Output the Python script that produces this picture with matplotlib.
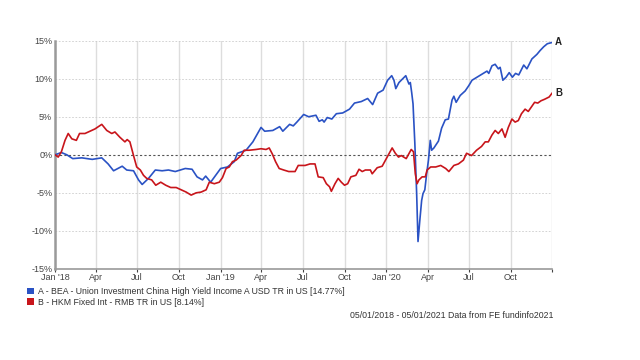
import numpy as np
import pandas as pd
import matplotlib
matplotlib.use("Agg")
import matplotlib.pyplot as plt
import matplotlib.dates as mdates
from matplotlib.patches import Patch

plt.rcParams["font.family"] = ["Liberation Sans", "DejaVu Sans"]

# series A: BEA - Union Investment China High Yield Income (cumulative %)
a_dates = [
    "2018-01-01", "2018-01-15", "2018-01-27", "2018-02-09", "2018-03-01", "2018-03-24",
    "2018-04-14", "2018-04-28", "2018-05-10", "2018-05-29", "2018-06-08", "2018-06-23",
    "2018-07-04", "2018-07-12", "2018-07-26", "2018-08-10", "2018-08-25", "2018-09-08",
    "2018-09-23", "2018-10-15", "2018-10-30", "2018-11-10", "2018-11-22", "2018-11-29",
    "2018-12-10", "2018-12-21", "2019-01-01", "2019-01-16", "2019-01-31", "2019-02-07",
    "2019-02-26", "2019-03-13", "2019-03-31", "2019-04-08", "2019-04-26", "2019-05-11",
    "2019-05-18", "2019-06-02", "2019-06-10", "2019-06-18", "2019-07-03", "2019-07-14",
    "2019-07-30", "2019-08-06", "2019-08-13", "2019-08-17", "2019-08-24", "2019-09-03",
    "2019-09-13", "2019-09-27", "2019-10-12", "2019-10-23", "2019-11-07", "2019-11-21",
    "2019-12-02", "2019-12-13", "2019-12-25", "2020-01-04", "2020-01-13", "2020-01-18",
    "2020-01-22", "2020-01-29", "2020-02-13", "2020-02-20", "2020-02-23", "2020-02-26",
    "2020-02-29", "2020-03-04", "2020-03-08", "2020-03-11", "2020-03-15", "2020-03-19",
    "2020-03-22", "2020-03-26", "2020-03-30", "2020-04-03", "2020-04-07", "2020-04-10",
    "2020-04-15", "2020-04-25", "2020-05-02", "2020-05-10", "2020-05-17", "2020-05-25",
    "2020-05-29", "2020-06-03", "2020-06-12", "2020-06-23", "2020-07-01", "2020-07-08",
    "2020-07-19", "2020-07-30", "2020-08-10", "2020-08-14", "2020-08-21", "2020-08-28",
    "2020-09-04", "2020-09-08", "2020-09-14", "2020-09-21", "2020-09-28", "2020-10-05",
    "2020-10-12", "2020-10-19", "2020-10-30", "2020-11-06", "2020-11-17", "2020-11-28",
    "2020-12-05", "2020-12-13", "2020-12-21", "2021-01-01",
]
a_vals = [
    0.0, 0.3, 0.0, -0.5, -0.4, -0.6,
    -0.4, -1.2, -2.1, -1.5, -2.0, -2.1,
    -3.3, -3.9, -3.1, -2.0, -2.1, -2.0,
    -2.2, -1.8, -1.9, -2.9, -3.3, -2.8,
    -3.6, -2.7, -1.8, -1.6, -0.9, 0.2,
    0.6, 1.7, 3.6, 3.1, 3.2, 3.7,
    3.1, 4.0, 3.8, 4.3, 5.3, 5.0,
    5.2, 4.4, 4.6, 4.3, 4.9, 4.7,
    5.4, 5.5, 6.0, 6.8, 7.0, 7.4,
    6.6, 8.1, 8.5, 9.8, 10.4, 9.8,
    8.7, 9.5, 10.4, 9.3, 9.5, 8.2,
    6.7, 1.5, -5.1, -11.4, -8.6, -6.0,
    -5.1, -4.6, -2.5, -0.7, 1.9, 0.6,
    0.9, 1.8, 3.5, 4.6, 4.7, 7.2,
    7.7, 6.9, 7.8, 8.4, 9.1, 9.8,
    10.2, 10.6, 11.0, 10.7, 11.7, 11.9,
    11.3, 11.5, 9.8, 10.2, 10.8, 10.2,
    10.7, 10.5, 11.8, 11.3, 12.6, 13.2,
    13.7, 14.2, 14.6, 14.77,
]

# series B: HKM Fixed Int - RMB (cumulative %)
b_dates = [
    "2018-01-01", "2018-01-08", "2018-01-15", "2018-01-23", "2018-01-30", "2018-02-07",
    "2018-02-17", "2018-02-24", "2018-03-08", "2018-03-19", "2018-03-30", "2018-04-14",
    "2018-04-25", "2018-05-06", "2018-05-13", "2018-05-24", "2018-06-04", "2018-06-09",
    "2018-06-15", "2018-06-23", "2018-06-30", "2018-07-08", "2018-07-15", "2018-07-22",
    "2018-08-02", "2018-08-11", "2018-08-22", "2018-09-02", "2018-09-13", "2018-09-25",
    "2018-10-06", "2018-10-17", "2018-10-28", "2018-11-08", "2018-11-19", "2018-11-30",
    "2018-12-07", "2018-12-18", "2018-12-29", "2019-01-05", "2019-01-13", "2019-01-20",
    "2019-01-27", "2019-02-04", "2019-02-15", "2019-02-22", "2019-03-05", "2019-03-20",
    "2019-03-31", "2019-04-11", "2019-04-18", "2019-04-25", "2019-05-02", "2019-05-10",
    "2019-05-20", "2019-05-31", "2019-06-14", "2019-06-21", "2019-07-06", "2019-07-17",
    "2019-07-28", "2019-08-04", "2019-08-15", "2019-08-22", "2019-08-29", "2019-09-02",
    "2019-09-10", "2019-09-17", "2019-09-24", "2019-10-01", "2019-10-08", "2019-10-15",
    "2019-10-26", "2019-11-02", "2019-11-09", "2019-11-16", "2019-11-27", "2019-12-01",
    "2019-12-12", "2019-12-23", "2020-01-03", "2020-01-14", "2020-01-21", "2020-01-28",
    "2020-02-03", "2020-02-14", "2020-02-25", "2020-03-01", "2020-03-05", "2020-03-09",
    "2020-03-13", "2020-03-20", "2020-03-27", "2020-03-31", "2020-04-08", "2020-04-19",
    "2020-04-30", "2020-05-11", "2020-05-18", "2020-05-29", "2020-06-08", "2020-06-19",
    "2020-06-26", "2020-07-07", "2020-07-18", "2020-07-29", "2020-08-06", "2020-08-13",
    "2020-08-21", "2020-08-28", "2020-09-04", "2020-09-12", "2020-09-19", "2020-09-26",
    "2020-10-04", "2020-10-11", "2020-10-18", "2020-10-25", "2020-11-02", "2020-11-09",
    "2020-11-16", "2020-11-23", "2020-11-30", "2020-12-07", "2020-12-15", "2020-12-25",
    "2021-01-01",
]
b_vals = [
    0.0, -0.3, 0.4, 1.9, 2.8, 2.1,
    1.9, 2.8, 2.8, 3.1, 3.4, 4.0,
    3.2, 2.8, 3.0, 2.3, 1.7, 2.0,
    1.7, -0.1, -1.6, -2.0, -2.7, -3.1,
    -3.3, -4.0, -3.6, -4.0, -4.3, -4.3,
    -4.6, -4.9, -5.3, -5.0, -4.9, -4.6,
    -3.6, -3.8, -3.6, -3.0, -1.8, -1.6,
    -0.9, -0.7, -0.1, 0.6, 0.6, 0.7,
    0.8, 0.7, 0.9, 0.1, -0.9, -1.8,
    -2.0, -2.2, -2.2, -1.4, -1.4, -1.2,
    -1.2, -2.9, -3.0, -3.8, -4.2, -4.8,
    -3.8, -3.1, -3.6, -4.0, -3.8, -2.9,
    -2.7, -1.9, -2.2, -2.0, -2.0, -2.5,
    -1.7, -1.5, -0.3, 0.9, 0.2, -0.3,
    -0.1, -0.5, 0.7, 0.4, -2.5, -3.8,
    -3.3, -2.9, -2.9, -2.0, -1.6, -1.6,
    -1.4, -1.8, -2.2, -1.4, -1.2, -0.7,
    0.2, -0.1, 0.6, 1.1, 1.7, 1.7,
    2.6, 3.2, 2.8, 3.4, 2.3, 3.6,
    4.7, 4.3, 4.5, 5.4, 6.0, 5.7,
    6.3, 6.9, 6.8, 7.1, 7.3, 7.6,
    8.14,
]

legend_labels = [
    "A - BEA - Union Investment China High Yield Income A USD TR in US [14.77%]",
    "B - HKM Fixed Int - RMB TR in US [8.14%]",
]
tick_dates = ["2018-01-01", "2018-04-01", "2018-07-01", "2018-10-01",
              "2019-01-01", "2019-04-01", "2019-07-01", "2019-10-01",
              "2020-01-01", "2020-04-01", "2020-07-01", "2020-10-01", "2021-01-01"]
tick_labels = ["Jan '18", "Apr", "Jul", "Oct", "Jan '19", "Apr", "Jul", "Oct",
               "Jan '20", "Apr", "Jul", "Oct", ""]
y_ticks = [-15, -10, -5, 0, 5, 10, 15]

blue = "#2a52c4"
red = "#c8151b"

fig = plt.figure(figsize=(6.4, 3.6), dpi=100)
ax = fig.add_axes([0.086, 0.253, 0.777, 0.634])

ax.plot(pd.to_datetime(a_dates), a_vals, color=blue, lw=1.2, zorder=3)
ax.plot(pd.to_datetime(b_dates), b_vals, color=red, lw=1.2, zorder=3)

ticks = pd.to_datetime(tick_dates)
ax.set_xlim(ticks[0], ticks[-1])
ax.set_ylim(-15, 15)
ax.set_xticks(ticks)
ax.set_xticklabels(tick_labels)
ax.set_yticks(y_ticks)
ax.set_yticklabels([f"{v}%" for v in y_ticks])

for t in ticks:
    ax.axvline(t, color="#dddddd", lw=1, zorder=1)
for v in y_ticks:
    if v != 0:
        ax.axhline(v, color="#cccccc", lw=0.6, ls=(0, (2, 2)), zorder=1)
ax.axhline(0, color="#555555", lw=0.8, ls=(0, (2, 2)), zorder=2)

for s in ["top", "right"]:
    ax.spines[s].set_visible(False)
ax.spines["left"].set_color("#9a9a9a")
ax.spines["left"].set_linewidth(1.8)
ax.spines["bottom"].set_color("#9a9a9a")
ax.spines["bottom"].set_linewidth(1.2)
ax.tick_params(axis="both", labelsize=6.5, colors="#444444", length=2, pad=1)
ax.tick_params(axis="y", length=0, pad=2)

ax.annotate("A", (ticks[-1], a_vals[-1]), xytext=(2, 0), textcoords="offset points",
            fontsize=7, fontweight="bold", va="center", ha="left", color="#222222")
ax.annotate("B", (ticks[-1], b_vals[-1]), xytext=(2, 0), textcoords="offset points",
            fontsize=7, fontweight="bold", va="center", ha="left", color="#222222")

handles = [Patch(facecolor=blue), Patch(facecolor=red)]
fig.legend(handles, legend_labels, loc="upper left", bbox_to_anchor=(0.035, 0.215),
           frameon=False, fontsize=6.3, handlelength=0.8, handleheight=0.8,
           handletextpad=0.5, labelspacing=0.2, borderpad=0, labelcolor="#333333")

fig.text(0.865, 0.125, "05/01/2018 - 05/01/2021 Data from FE fundinfo2021",
         ha="right", va="center", fontsize=6.3, color="#333333")

fig.savefig("out.png", dpi=100)
